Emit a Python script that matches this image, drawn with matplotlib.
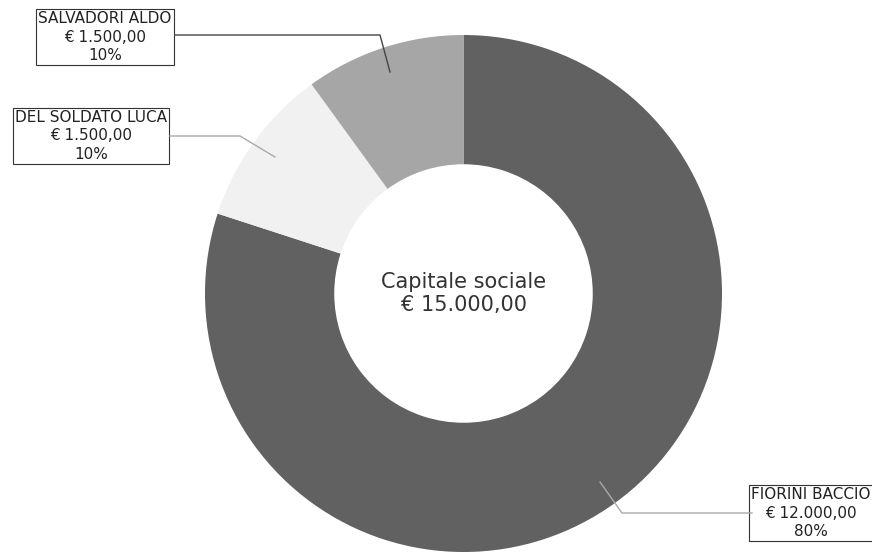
import matplotlib.pyplot as plt

# dati del grafico
soci = ["FIORINI BACCIO", "DEL SOLDATO LUCA", "SALVADORI ALDO"]
quote = [12000.00, 1500.00, 1500.00]
percentuali = ["80%", "10%", "10%"]
colori = ["#616161", "#f1f1f1", "#a6a6a6"]
totale_label = "Capitale sociale\n€ 15.000,00"


def euro(v):
    # formato italiano: 12.000,00
    s = f"{v:,.2f}"
    return s.replace(",", "X").replace(".", ",").replace("X", ".")


W, H = 872, 553
fig = plt.figure(figsize=(W / 100, H / 100), dpi=100)
ax = fig.add_axes([0, 0, 1, 1])

cx, cy = 463.5, H - 293.5
raggio = 258.5

ax.pie(quote, colors=colori, startangle=90, counterclock=False,
       center=(cx, cy), radius=raggio, frame=True,
       wedgeprops=dict(width=raggio * 0.5, edgecolor="none"))
ax.set_xlim(0, W)
ax.set_ylim(0, H)
ax.set_aspect("equal")
ax.axis("off")

ax.text(cx, cy, totale_label, ha="center", va="center", fontsize=15,
        color="#333333", linespacing=1.15)

# posizione dei box (pixel immagine) e punti delle linee guida
box_pos = [(811, 513), (91, 136), (105, 37)]
guide = [
    [(752, 513), (622, 513), (600, 482)],
    [(170, 136), (240, 136), (275, 157)],
    [(175, 35), (380, 35), (390, 72)],
]
guide_col = ["#aaaaaa", "#aaaaaa", "#444444"]

for i, nome in enumerate(soci):
    testo = f"{nome}\n€ {euro(quote[i])}\n{percentuali[i]}"
    bx, by = box_pos[i]
    ax.text(bx, H - by, testo, ha="center", va="center", fontsize=11,
            color="#222222", linespacing=1.3,
            bbox=dict(boxstyle="square,pad=0.15", fc="white", ec="#333333", lw=0.8))
    xs = [p[0] for p in guide[i]]
    ys = [H - p[1] for p in guide[i]]
    ax.plot(xs, ys, color=guide_col[i], lw=1, zorder=5)

fig.savefig("out.png", dpi=100)
